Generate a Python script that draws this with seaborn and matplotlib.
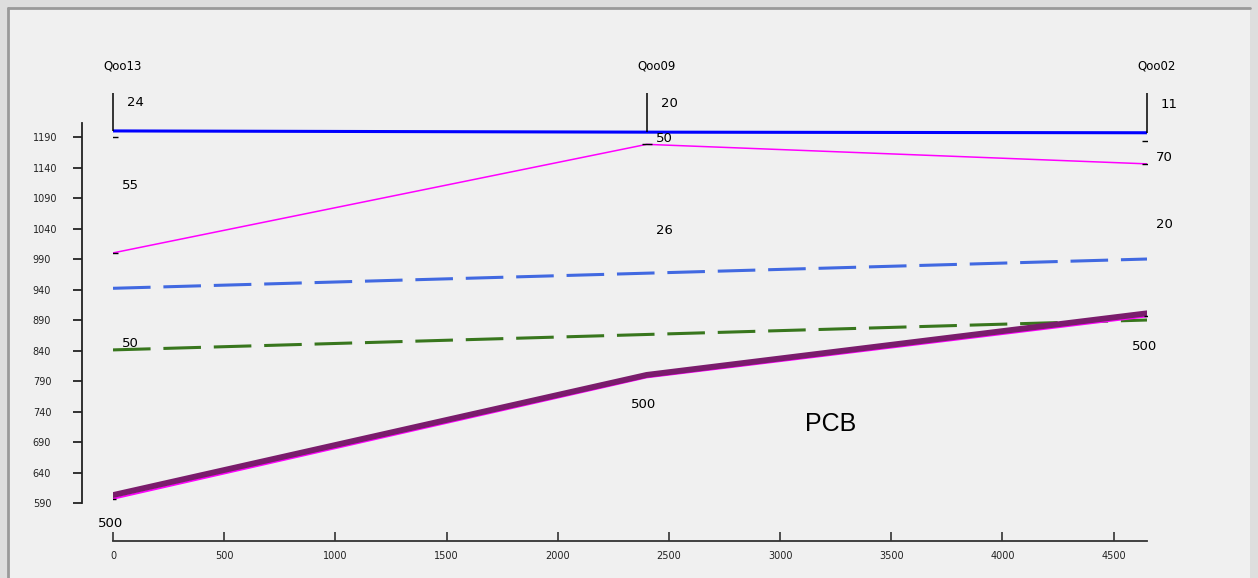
import matplotlib
matplotlib.use('Agg')
import matplotlib.pyplot as plt
import matplotlib.patches as patches
import seaborn as sns
import pandas as pd

# stations along the route
stations = ['Qoo13', 'Qoo09', 'Qoo02']
dist = [0, 2400, 4650]

# series values at each station
blue_top = [1200, 1198, 1197]
magenta_top = [1000, 1178, 1146]
blue_dash = [942, 967, 990]
green_dash = [841, 866, 890]
purple = [603, 800, 901]
magenta_low = [597, 796, 896]
marker_top = [1190, 1179, 1183]

# labels
top_labels = ['24', '20', '11']
top_label_y = [1246, 1245, 1243]
mag_labels = ['55', '50', '70']
mag_label_y = [1111, 1188, 1156]
mid_labels = ['', '26', '20']
mid_label_y = [1037, 1037, 1047]
green_labels = ['50', '', '']
green_label_y = [852, 852, 852]
low_labels = ['500', '500', '500']
low_label_y = [557, 752, 847]
name_y = 1306
tick_top = 1262

sns.set_style('ticks')
plt.rcParams['font.family'] = ['DejaVu Sans']
plt.rcParams['text.color'] = 'black'

fig = plt.figure(figsize=(12.58, 5.78), dpi=100)
fig.patch.set_facecolor('#dedede')
# window frame
fig.patches.append(patches.Rectangle((8 / 1258, 0), 1242 / 1258, 570 / 578,
                                     transform=fig.transFigure, facecolor='#f0f0f0',
                                     edgecolor='none', zorder=-10))
fig.add_artist(plt.Line2D([8 / 1258, 1250 / 1258], [570 / 578, 570 / 578],
                          transform=fig.transFigure, color='#9a9a9a', lw=2, zorder=-9))
fig.add_artist(plt.Line2D([8 / 1258, 8 / 1258], [0, 570 / 578],
                          transform=fig.transFigure, color='#9a9a9a', lw=2, zorder=-9))

ax = fig.add_axes([113 / 1258, 75 / 578, 1034 / 1258, 380 / 578])
ax.patch.set_alpha(0)

df = pd.DataFrame({'dist': dist, 'blue_top': blue_top, 'magenta_top': magenta_top,
                   'blue_dash': blue_dash, 'green_dash': green_dash,
                   'purple': purple, 'magenta_low': magenta_low})

sns.lineplot(data=df, x='dist', y='blue_top', color='#0000ff', linewidth=2.2, ax=ax)
sns.lineplot(data=df, x='dist', y='magenta_top', color='#ff00ff', linewidth=1.1, ax=ax)
sns.lineplot(data=df.iloc[[0, 2]], x='dist', y='blue_dash', color='#4169e1', linewidth=2.2,
             linestyle=(0, (12.3, 4.2)), ax=ax)
sns.lineplot(data=df.iloc[[0, 2]], x='dist', y='green_dash', color='#38761d', linewidth=2.2,
             linestyle=(0, (12.3, 4.2)), ax=ax)
sns.lineplot(data=df, x='dist', y='magenta_low', color='#ff00ff', linewidth=1.5, ax=ax)
sns.lineplot(data=df, x='dist', y='purple', color='#7a1c6c', linewidth=4.2, ax=ax)

# small end markers
ax.plot(dist, marker_top, linestyle='none', marker='_', markersize=7, color='black', mew=1)
ax.plot([dist[0], dist[2]], [magenta_top[0], magenta_top[2]], linestyle='none',
        marker='_', markersize=7, color='black', mew=1)
ax.plot([dist[0], dist[2]], [magenta_low[0], magenta_low[2]], linestyle='none',
        marker='_', markersize=5, color='black', mew=1)

# station markers
ax.vlines(dist, blue_top, tick_top, color='black', linewidth=1.1, clip_on=False)

for i, d in enumerate(dist):
    ax.annotate(stations[i], (d, name_y), xytext=(7, 0), textcoords='offset points',
                ha='center', va='center', fontsize=8.5, annotation_clip=False)
    ax.annotate(top_labels[i], (d, top_label_y[i]), xytext=(10, 0), textcoords='offset points',
                ha='left', va='center', fontsize=9.5, annotation_clip=False)
    ax.annotate(mag_labels[i], (d, mag_label_y[i]), xytext=(6.5, 0), textcoords='offset points',
                ha='left', va='center', fontsize=9.5)
    if mid_labels[i]:
        ax.annotate(mid_labels[i], (d, mid_label_y[i]), xytext=(6.5, 0), textcoords='offset points',
                    ha='left', va='center', fontsize=9.5)
    if green_labels[i]:
        ax.annotate(green_labels[i], (d, green_label_y[i]), xytext=(6.5, 0), textcoords='offset points',
                    ha='left', va='center', fontsize=9.5)
    ax.annotate(low_labels[i], (d, low_label_y[i]), xytext=(-2, 0), textcoords='offset points',
                ha='center', va='center', fontsize=9.5, annotation_clip=False)

ax.text(3227, 720, 'PCB', fontsize=18, ha='center', va='center', family=['Liberation Sans'])

ax.set_xlim(0, 4650)
ax.set_ylim(590, 1213)
ax.set_xticks(range(0, 4501, 500))
ax.set_yticks(range(590, 1191, 50))
ax.set_xlabel('')
ax.set_ylabel('')

for s in ['top', 'right']:
    ax.spines[s].set_visible(False)
ax.spines['left'].set_position(('outward', 22.3))
ax.spines['bottom'].set_position(('outward', 27.4))
ax.spines['left'].set_color('#222222')
ax.spines['bottom'].set_color('#333333')
ax.spines['left'].set_linewidth(1.3)
ax.spines['bottom'].set_linewidth(1.3)

ax.tick_params(axis='y', direction='out', length=6.5, width=1.3, pad=29,
               labelsize=7, labelcolor='#222222', color='#222222')
ax.tick_params(axis='x', direction='in', length=6.5, width=1.1, pad=7,
               labelsize=7, labelcolor='#222222', color='#222222')
for lbl in ax.get_yticklabels():
    lbl.set_horizontalalignment('left')

fig.savefig('out.png', dpi=100, facecolor=fig.get_facecolor())
